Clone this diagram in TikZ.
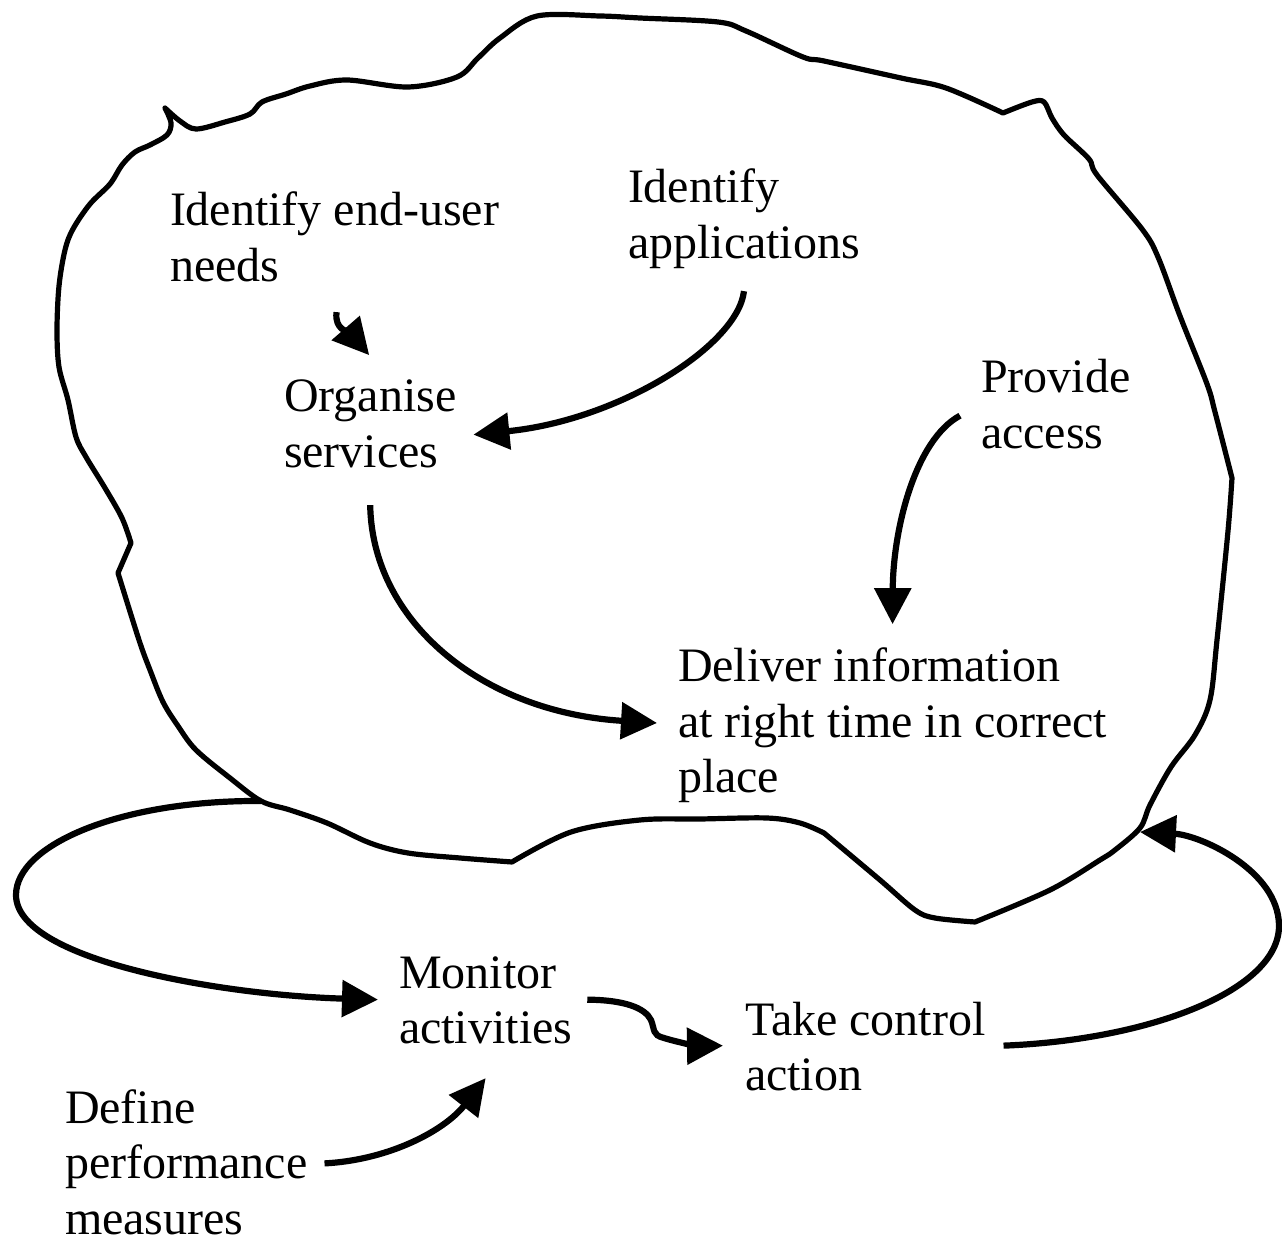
\documentclass[tikz,border=0pt]{standalone}
\usepackage{fontspec}
\setmainfont{Liberation Serif}
\usetikzlibrary{arrows.meta}

% left-aligned block of lines whose reference point is the first baseline
\newcommand\txtlines[1]{\begin{tabular}[t]{@{}l@{}}#1\end{tabular}}

\begin{document}
\begin{tikzpicture}[x=0.5pt,y=-0.5pt,
  label/.style={inner sep=0pt, outer sep=0pt, anchor=base west,
                font=\fontsize{24pt}{27.75pt}\selectfont},
  outline/.style={line width=2.6pt, line join=round, line cap=round},
  flow/.style={line width=3.1pt, line cap=butt,
               -{Triangle[length=18pt,width=18pt]}},
]
\useasboundingbox (0,0) rectangle (1282,1241);

% activity labels
\node[label] (need) at (170,226) {\txtlines{Identify end-user\\needs}};
\node[label] (apps) at (628,203) {\txtlines{Identify\\applications}};
\node[label] (org)  at (284,412) {\txtlines{Organise\\services}};
\node[label] (prov) at (981,393) {\txtlines{Provide\\access}};
\node[label] (deliv) at (678,682) {\txtlines{Deliver information\\at right time in correct\\place}};
\node[label] (mon)  at (399,988) {\txtlines{Monitor\\activities}};
\node[label] (take) at (745,1035) {\txtlines{Take control\\action}};
\node[label] (def)  at (65,1123) {\txtlines{Define\\performance\\measures}};

% boundary of the operational system
\draw[outline]
  plot[smooth, tension=0.55] coordinates {(165,108) (180,121) (196,129) (225,122)
     (250,114) (262,102) (286,94) (310,86) (347,80) (408,87) (457,77) (478,58)
     (500,38) (537,16) (600,16) (640,18) (718,22) (746,31) (803,57) (824,61)
     (901,78) (946,88) (1003,113)}
  -- plot[smooth, tension=0.55] coordinates {(1003,113) (1032,102) (1044,102)
     (1052,118) (1064,135) (1089,159) (1097,175) (1142,229) (1158,257)
     (1180,316) (1207,384) (1215,412) (1232,478)}
  -- plot[smooth, tension=0.55] coordinates {(1232,478) (1228,531) (1217,640)
     (1210,700) (1195,735) (1171,767) (1150,805) (1140,828) (1115,850)
     (1100,860) (1050,890) (975,922)}
  -- plot[smooth, tension=0.55] coordinates {(975,922) (935,918) (915,910)
     (880,880) (824,833)}
  -- plot[smooth, tension=0.55] coordinates {(824,833) (800,823) (767,818)
     (700,819) (640,820) (571,832) (512,862)}
  -- plot[smooth, tension=0.55] coordinates {(512,862) (460,858) (408,853)
     (370,843) (327,823) (290,810) (261,801) (230,778) (196,750) (178,726)
     (163,702) (150,670) (139,640) (118,573)}
  -- (131,543)
  -- plot[smooth, tension=0.55] coordinates {(131,543) (122,518) (105,488)
     (86,457) (76,437) (68,400) (59,367) (57,330) (59,286) (65,250) (73,229)
     (90,204) (110,184) (122,165) (135,152) (150,145) (167,135) (171,123)
     (165,108)}
  -- cycle;

% points where the control loops meet the boundary
\coordinate (lp) at (261,801);
\coordinate (rp) at (1140,832);

% flows inside the system
\draw[flow] ([shift={(2,14)}]need.south)
  .. controls (334,330) and (350,333) .. ([shift={(-1,-18)}]org.north);
\draw[flow] ([shift={(0,16)}]apps.south)
  .. controls (738,345) and (620,420) .. ([shift={(17,6)}]org.east);
\draw[flow] ([shift={(0,21)}]org.south)
  .. controls (372,620) and (480,712) .. ([shift={(-21,41)}]deliv.base west);
\draw[flow] ([shift={(-21,6)}]prov.west)
  .. controls (915,440) and (893,530) .. ([shift={(0,-19)}]deliv.north);

% monitoring and control loop
\draw[flow] (lp)
  .. controls (120,800) and (16,845) .. (16,895)
  .. controls (16,960) and (220,995) .. ([shift={(-21,-5)}]mon.west);
\draw[flow] ([shift={(15,-5)}]mon.east)
  .. controls (625,1000) and (645,1008) .. (651,1020)
  .. controls (655,1030) and (652,1035) .. (664,1038)
  .. controls (680,1043) and (700,1046) .. ([shift={(-22,-6)}]take.west);
\draw[flow] ([shift={(17,-4)}]def.east)
  .. controls (390,1160) and (445,1130) .. ([shift={(0,18)}]mon.south);
\draw[flow] ([shift={(18,-6)}]take.east)
  .. controls (1150,1040) and (1280,990) .. (1279,925)
  .. controls (1278,870) and (1200,835) .. (rp);
\end{tikzpicture}
\end{document}
